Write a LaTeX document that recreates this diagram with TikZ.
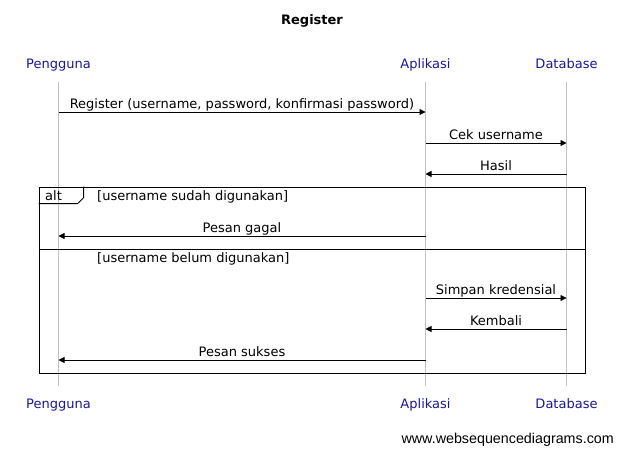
\documentclass[tikz,border=0pt]{standalone}
\usepackage{fontspec}
\setmainfont{DejaVu Sans}
\newfontfamily\wsdfont{Liberation Sans}
\usetikzlibrary{arrows.meta}

\definecolor{actorblue}{RGB}{24,24,150}
\definecolor{lifegray}{RGB}{192,192,192}

\begin{document}
\begin{tikzpicture}[x=1pt, y=-1pt,
  every node/.append style={font=\fontsize{13}{15}\selectfont},
  actor/.style={text=actorblue, anchor=base, inner sep=0pt,
    text height=10pt, text depth=3pt},
  lifeline/.style={draw=lifegray, line width=0.8pt},
  msg/.style={line width=0.8pt, -{Triangle[length=6pt,width=6pt]}},
  msglabel/.style={anchor=base, yshift=4pt, inner sep=0pt}]

  \useasboundingbox (0,0) rectangle (623,455);

  % Title

  \node [font=\fontsize{13}{15}\selectfont\bfseries, anchor=base] (ttl) at (312,24) {Register};

  % Participants, top and bottom

  \node [actor] (pngtop) at (58.5,68) {Pengguna};
  \node [actor] (apltop) at (425.5,68) {Aplikasi};
  \node [actor] (dbstop) at (566.5,68) {Database};

  \node [actor] (pngbot) at (58.5,408) {Pengguna};
  \node [actor] (aplbot) at (425.5,408) {Aplikasi};
  \node [actor] (dbsbot) at (566.5,408) {Database};

  \foreach \p in {png,apl,dbs}
    \draw [lifeline, shorten <=11pt, shorten >=12pt] (\p top) -- (\p bot);

  % alt fragment

  \node [draw, line width=0.8pt, minimum width=546pt, minimum height=186pt,
    inner sep=0pt] (alt) at (312,280) {};
  \draw [line width=0.8pt] (alt.north west) ++(0,17) -- ++(39,0) -- ++(6,-6) -- ++(0,-11);
  \draw [line width=0.8pt] (alt.west |- 0,249) -- (alt.east |- 0,249);
  \node [anchor=base west, inner sep=0pt] (altlbl) at (45,200) {alt};
  \node [anchor=base west, inner sep=0pt] (cnd1) at (97,200) {[username sudah digunakan]};
  \node [anchor=base west, inner sep=0pt] (cnd2) at (97,262) {[username belum digunakan]};

  % Messages

  \foreach \y/\from/\to/\txt in {
      112/pngtop/apltop/{Register (username, password, konfirmasi password)},
      143/apltop/dbstop/{Cek username},
      174/dbstop/apltop/{Hasil},
      236/apltop/pngtop/{Pesan gagal},
      298/apltop/dbstop/{Simpan kredensial},
      329/dbstop/apltop/{Kembali},
      360/apltop/pngtop/{Pesan sukses}}
    \draw [msg] (\from |- 0,\y) -- node [msglabel] {\txt} (\to |- 0,\y);

  % Watermark

  \node [anchor=east, inner sep=0pt, font=\wsdfont\fontsize{14.3}{16}\selectfont]
    (wsd) at (614,440) {www.websequencediagrams.com};
\end{tikzpicture}
\end{document}
